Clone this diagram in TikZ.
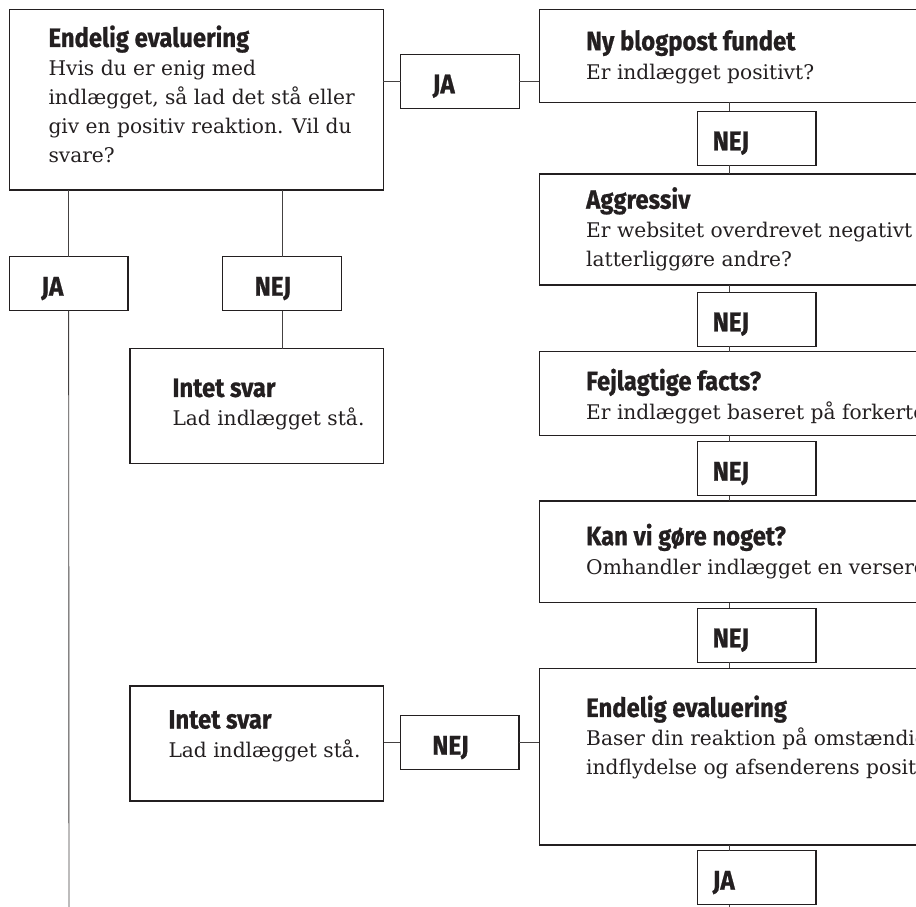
\documentclass[tikz,border=0pt]{standalone}
\usepackage{fontspec}
\usetikzlibrary{positioning}
\newfontfamily\ttlfont[FakeStretch=0.9,FakeBold=0.8]{Fira Sans Bold}
\newfontfamily\bodyfont{DejaVu Serif}
\definecolor{ink}{HTML}{231F20}
\newcommand{\ttl}[1]{\rule{0pt}{22pt}{\ttlfont\fontsize{26.5}{29}\selectfont #1}}

\begin{document}
\begin{tikzpicture}[
  x=1pt,y=-1pt,
  box/.style={draw=ink,line width=1.1pt,anchor=north west,inner sep=0pt,outer sep=0pt},
  big/.style={box,minimum width=380pt},
  ans/.style={box,minimum width=118.7pt,minimum height=54pt,align=left,text=ink,
    font=\ttlfont\fontsize{27}{29}\selectfont,text height=24pt,text depth=0pt,
    inner xsep=32pt,text width=54.7pt},
  ansr/.style={ans,inner xsep=15.4pt,text width=87.9pt},
  txt/.style={anchor=north west,yshift=22pt,inner sep=0pt,align=left,text=ink,
    font=\bodyfont\fontsize{20.2}{29}\selectfont},
  con/.style={draw=ink!85,line width=0.9pt}]
  \useasboundingbox (0,0) rectangle (916,906);
  \clip (0,0) rectangle (916,906);
  % left part
  \node[box,minimum width=374pt,minimum height=180.7pt] (evalA) at (9.3,9.3) {};
  \node[txt] at ([shift={(39,37.4)}]evalA.north west) {\ttl{Endelig evaluering}\\ Hvis du er enig med\\ indlægget, så lad det stå eller\\ giv en positiv reaktion. Vil du\\ svare?};
  \node[ans] (jaTop) at (400.7,54.3) {JA};
  \node[ans] (jaLeft) at (9.3,256.7) {JA};
  \node[ans] (nejLeft) at (222.7,256.7) {NEJ};
  \node[box,minimum width=253.3pt,minimum height=114.6pt] (intet1) at (130,348.7) {};
  \node[txt] at ([shift={(42.3,48)}]intet1.north west) {\ttl{Intet svar}\\ Lad indlægget stå.};
  \node[box,minimum width=253.7pt,minimum height=115pt] (intet2) at (130,686) {};
  \node[txt] at ([shift={(38.3,42.3)}]intet2.north west) {\ttl{Intet svar}\\ Lad indlægget stå.};
  \node[ans] (nejMid) at (400.3,715.7) {NEJ};
  % right column
  \node[big,minimum height=93pt] (nyPost) at (539.3,9.3) {};
  \node[txt] at ([shift={(46.7,40.7)}]nyPost.north west) {\ttl{Ny blogpost fundet}\\ Er indlægget positivt?};
  \node[ansr] (nej1) at (697.3,111.3) {NEJ};
  \node[big,minimum height=111pt] (aggr) at (539.3,174) {};
  \node[txt] at ([shift={(46.7,34.5)}]aggr.north west) {\ttl{Aggressiv}\\ Er websitet overdrevet negativt og\\ latterliggøre andre?};
  \node[ansr] (nej2) at (697.3,292.3) {NEJ};
  \node[big,minimum height=83.6pt] (fejl) at (539.3,351.7) {};
  \node[txt] at ([shift={(46.7,38.3)}]fejl.north west) {\ttl{Fejlagtige facts?}\\ Er indlægget baseret på forkerte};
  \node[ansr] (nej3) at (697.3,441.7) {NEJ};
  \node[big,minimum height=101.7pt] (kanVi) at (539.3,501) {};
  \node[txt] at ([shift={(46.7,44)}]kanVi.north west) {\ttl{Kan vi gøre noget?}\\ Omhandler indlægget en verserende};
  \node[ansr] (nej4) at (697.3,608.3) {NEJ};
  \node[big,minimum height=176.7pt] (evalB) at (539.3,668.3) {};
  \node[txt] at ([shift={(46.7,48.4)}]evalB.north west) {\ttl{Endelig evaluering}\\ Baser din reaktion på omstændighederne\\ indflydelse og afsenderens position};
  \node[ansr] (jaBot) at (697.3,850.7) {JA};
  \coordinate (endL) at (69,910);
  \coordinate (endR) at (729.3,910);
  % connectors
  \draw[con] (evalA.east |- jaTop.west) -- (jaTop.west);
  \draw[con] (jaTop.east) -- (jaTop.east -| nyPost.west);
  \draw[con] (nyPost.south) -- (nyPost.south |- nej1.north);
  \foreach \a/\b in {aggr/nej2,fejl/nej3,kanVi/nej4,evalB/jaBot}{\draw[con] (\a.south) -- (\a.south |- \b.north);}
  \foreach \a/\b in {nej1/aggr,nej2/fejl,nej3/kanVi,nej4/evalB,jaBot/endR}{\draw[con] (\a.south -| \b) -- (\b |- \a.south) -- (\b);}
  \draw[con] (jaLeft.north |- evalA.south) -- (jaLeft.north);
  \draw[con] (nejLeft.north |- evalA.south) -- (nejLeft.north);
  \draw[con] (nejLeft.south) -- (nejLeft.south |- intet1.north);
  \draw[con] (jaLeft.south) -- (endL);
  \draw[con] (intet2.east |- nejMid.west) -- (nejMid.west);
  \draw[con] (nejMid.east) -- (nejMid.east -| evalB.west);
\end{tikzpicture}
\end{document}
